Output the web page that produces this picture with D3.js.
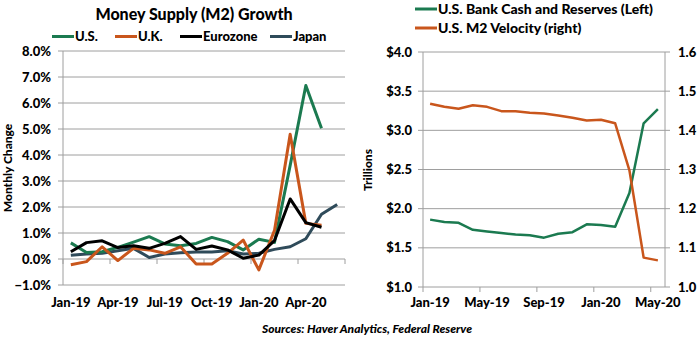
<!DOCTYPE html>
<html>
<head>
<meta charset="utf-8">
<script src="https://cdn.jsdelivr.net/npm/d3@7"></script>
<style>
  body { margin: 0; background: #fff; }
  svg { font-family: Lato, "Open Sans", sans-serif; font-weight: 900; }
</style>
</head>
<body>
<svg id="chart" width="700" height="339"></svg>
<script>
// left chart: monthly M2 change (%)
const m2Months = ["Jan-19","Feb-19","Mar-19","Apr-19","May-19","Jun-19","Jul-19","Aug-19","Sep-19",
  "Oct-19","Nov-19","Dec-19","Jan-20","Feb-20","Mar-20","Apr-20","May-20","Jun-20"];
const usM2 = [0.62,0.25,0.28,0.45,0.65,0.86,0.58,0.51,0.6,0.83,0.67,0.35,0.76,0.64,3.6,6.67,5.03];
const ukM2 = [-0.22,-0.1,0.47,-0.06,0.41,0.35,0.22,0.47,-0.19,-0.19,0.22,0.73,-0.42,1.1,4.8,1.37,1.3];
const euM2 = [0.28,0.63,0.7,0.44,0.51,0.41,0.6,0.86,0.37,0.5,0.35,0.03,0.15,0.71,2.31,1.4,1.22];
const jpM2 = [0.14,0.19,0.22,0.32,0.41,0.06,0.19,0.24,0.27,0.27,0.32,0.19,0.22,0.37,0.47,0.78,1.72,2.1];
const m2Ticks = [-1,0,1,2,3,4,5,6,7,8];

// right chart: bank cash ($ trillions) and M2 velocity
const resMonths = ["Jan-19","Feb-19","Mar-19","Apr-19","May-19","Jun-19","Jul-19","Aug-19","Sep-19",
  "Oct-19","Nov-19","Dec-19","Jan-20","Feb-20","Mar-20","Apr-20","May-20"];
const bankCash = [1.86,1.83,1.82,1.73,1.71,1.69,1.67,1.66,1.63,1.68,1.70,1.80,1.79,1.77,2.2,3.09,3.27];
const velocity = [1.468,1.46,1.455,1.464,1.46,1.449,1.449,1.445,1.443,1.438,1.432,1.425,1.427,1.418,1.298,1.075,1.068];
const cashTicks = [1,1.5,2,2.5,3,3.5,4];
const velTicks = [1,1.1,1.2,1.3,1.4,1.5,1.6];

const GREEN = "#1b7a50", ORANGE = "#c9561c", BLACK = "#000", SLATE = "#2f4b5a", GRID = "#9e9e9e";
const svg = d3.select("#chart");

// ---------- left chart ----------
const x1 = d3.scaleBand().domain(m2Months).range([63, 345]);
const y1 = d3.scaleLinear().domain([-1, 8]).range([285, 51]);

svg.append("text").attr("x", 194).attr("y", 20).attr("text-anchor", "middle")
  .attr("font-size", 16).text("Money Supply (M2) Growth");

const g1 = svg.append("g");
g1.selectAll(".grid").data(m2Ticks).enter().append("line")
  .attr("x1", 63).attr("x2", 345).attr("y1", d => y1(d)).attr("y2", d => y1(d))
  .attr("stroke", GRID).attr("stroke-width", 1);
g1.selectAll(".ylab").data(m2Ticks).enter().append("text")
  .attr("x", 51).attr("y", d => y1(d) + 4.5).attr("text-anchor", "end").attr("font-size", 13)
  .text(d => d3.format(".1f")(d) + "%");
g1.selectAll(".ytick").data(m2Ticks).enter().append("line")
  .attr("x1", 58).attr("x2", 63).attr("y1", d => y1(d)).attr("y2", d => y1(d)).attr("stroke", GRID);
g1.append("line").attr("x1", 63).attr("x2", 63).attr("y1", 51).attr("y2", 285).attr("stroke", GRID);
// category ticks on zero line, every 3 months
d3.range(0, m2Months.length + 1, 3).forEach(i => {
  const xx = 63 + i * x1.bandwidth();
  g1.append("line").attr("x1", xx).attr("x2", xx).attr("y1", y1(0)).attr("y2", y1(0) + 5).attr("stroke", GRID);
});
g1.selectAll(".xlab").data(m2Months.filter((d, i) => i % 3 === 0)).enter().append("text")
  .attr("x", d => x1(d) + x1.bandwidth() / 2).attr("y", 307).attr("text-anchor", "middle")
  .attr("font-size", 13).text(d => d);
svg.append("text").attr("transform", "translate(12,168) rotate(-90)").attr("text-anchor", "middle")
  .attr("font-size", 12).text("Monthly Change");

const line1 = d3.line().x((d, i) => x1(m2Months[i]) + x1.bandwidth() / 2).y(d => y1(d));
[[jpM2, SLATE], [usM2, GREEN], [ukM2, ORANGE], [euM2, BLACK]].forEach(([vals, col]) => {
  g1.append("path").datum(vals).attr("d", line1).attr("fill", "none")
    .attr("stroke", col).attr("stroke-width", 3).attr("stroke-linejoin", "round");
});

const leg1 = [["U.S.", GREEN, 52], ["U.K.", ORANGE, 115], ["Eurozone", BLACK, 180], ["Japan", SLATE, 270]];
leg1.forEach(([name, col, lx]) => {
  svg.append("line").attr("x1", lx).attr("x2", lx + 22).attr("y1", 36.5).attr("y2", 36.5)
    .attr("stroke", col).attr("stroke-width", 3);
  svg.append("text").attr("x", lx + 23).attr("y", 41).attr("font-size", 13).text(name);
});

// ---------- right chart ----------
const x2 = d3.scaleBand().domain(resMonths).range([423, 665]);
const y2 = d3.scaleLinear().domain([1, 4]).range([287, 52]);
const y3 = d3.scaleLinear().domain([1, 1.6]).range([287, 52]);

const g2 = svg.append("g");
g2.selectAll(".grid").data(cashTicks).enter().append("line")
  .attr("x1", 423).attr("x2", 665).attr("y1", d => y2(d)).attr("y2", d => y2(d))
  .attr("stroke", GRID);
g2.append("line").attr("x1", 423).attr("x2", 423).attr("y1", 52).attr("y2", 287).attr("stroke", GRID);
g2.append("line").attr("x1", 665).attr("x2", 665).attr("y1", 52).attr("y2", 287).attr("stroke", GRID);
g2.selectAll(".ltick").data(cashTicks).enter().append("line")
  .attr("x1", 418).attr("x2", 423).attr("y1", d => y2(d)).attr("y2", d => y2(d)).attr("stroke", GRID);
g2.selectAll(".rtick").data(velTicks).enter().append("line")
  .attr("x1", 665).attr("x2", 670).attr("y1", d => y3(d)).attr("y2", d => y3(d)).attr("stroke", GRID);
g2.selectAll(".llab").data(cashTicks).enter().append("text")
  .attr("x", 412).attr("y", d => y2(d) + 4.5).attr("text-anchor", "end").attr("font-size", 13)
  .text(d => "$" + d3.format(".1f")(d));
g2.selectAll(".rlab").data(velTicks).enter().append("text")
  .attr("x", 678).attr("y", d => y3(d) + 4.5).attr("font-size", 13)
  .text(d => d3.format(".1f")(d));
d3.range(0, resMonths.length, 4).forEach(i => {
  const xx = 423 + i * x2.bandwidth();
  g2.append("line").attr("x1", xx).attr("x2", xx).attr("y1", 287).attr("y2", 292).attr("stroke", GRID);
});
g2.selectAll(".xlab").data(resMonths.filter((d, i) => i % 4 === 0)).enter().append("text")
  .attr("x", d => x2(d) + x2.bandwidth() / 2).attr("y", 307).attr("text-anchor", "middle")
  .attr("font-size", 13).text(d => d);
svg.append("text").attr("transform", "translate(372,170) rotate(-90)").attr("text-anchor", "middle")
  .attr("font-size", 12).text("Trillions");

const cx = (d, i) => x2(resMonths[i]) + x2.bandwidth() / 2;
g2.append("path").datum(bankCash).attr("d", d3.line().x(cx).y(d => y2(d)))
  .attr("fill", "none").attr("stroke", GREEN).attr("stroke-width", 2.5).attr("stroke-linejoin", "round");
g2.append("path").datum(velocity).attr("d", d3.line().x(cx).y(d => y3(d)))
  .attr("fill", "none").attr("stroke", ORANGE).attr("stroke-width", 2.5).attr("stroke-linejoin", "round");

[["U.S. Bank Cash and Reserves (Left)", GREEN, 9], ["U.S. M2 Velocity (right)", ORANGE, 28]].forEach(([name, col, ly]) => {
  svg.append("line").attr("x1", 415).attr("x2", 437).attr("y1", ly).attr("y2", ly)
    .attr("stroke", col).attr("stroke-width", 3);
  svg.append("text").attr("x", 438).attr("y", ly + 5).attr("font-size", 14).text(name);
});

svg.append("text").attr("x", 367).attr("y", 333).attr("text-anchor", "middle")
  .attr("font-size", 12).attr("font-style", "italic").text("Sources: Haver Analytics, Federal Reserve");
</script>
</body>
</html>
